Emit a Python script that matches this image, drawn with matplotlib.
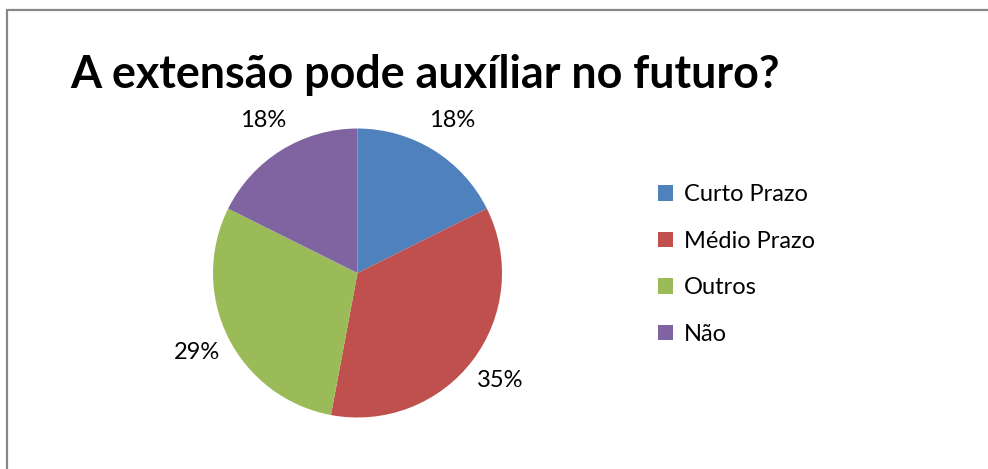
import matplotlib
matplotlib.use("Agg")
import matplotlib.pyplot as plt
from matplotlib.patches import Rectangle

# respostas (contagens) -> 18%, 35%, 29%, 18%
categories = ['Curto Prazo', 'Médio Prazo', 'Outros', 'Não']
counts = [3, 6, 5, 3]
colors = ['#4F81BD', '#C0504D', '#9BBB59', '#8064A2']

plt.rcParams['font.family'] = ['Lato', 'DejaVu Sans']

fig = plt.figure(figsize=(9.88, 4.69), dpi=100)

# moldura do gráfico (estilo Excel)
fig.patches.append(Rectangle((7 / 988, -0.05), 1.2, 1 - 10 / 469 + 0.05,
                             transform=fig.transFigure, fill=False,
                             edgecolor='#888888', linewidth=1.6))

fig.text(70 / 988, 1 - 75 / 469, 'A extensão pode auxíliar no futuro?',
         fontsize=32.3, fontweight='bold', va='center', ha='left')

ax = fig.add_axes([0.2156, 0.1098, 0.2925, 0.6162])
wedges, texts, autotexts = ax.pie(counts, colors=colors, startangle=90,
                                  counterclock=False, autopct='%1.0f%%',
                                  pctdistance=1.24,
                                  wedgeprops=dict(linewidth=0))
for t in autotexts:
    t.set_fontsize(17)
    t.set_clip_on(False)
ax.set_xlim(-1, 1)
ax.set_ylim(-1, 1)
ax.set_aspect('equal')

leg = fig.legend(wedges, categories, loc='upper left',
                 bbox_to_anchor=(637 / 988, 1 - 163 / 469), frameon=False,
                 fontsize=17, handlelength=0.62, handleheight=0.62,
                 handletextpad=0.45, labelspacing=1.08)

fig.savefig('out.png', dpi=100)
